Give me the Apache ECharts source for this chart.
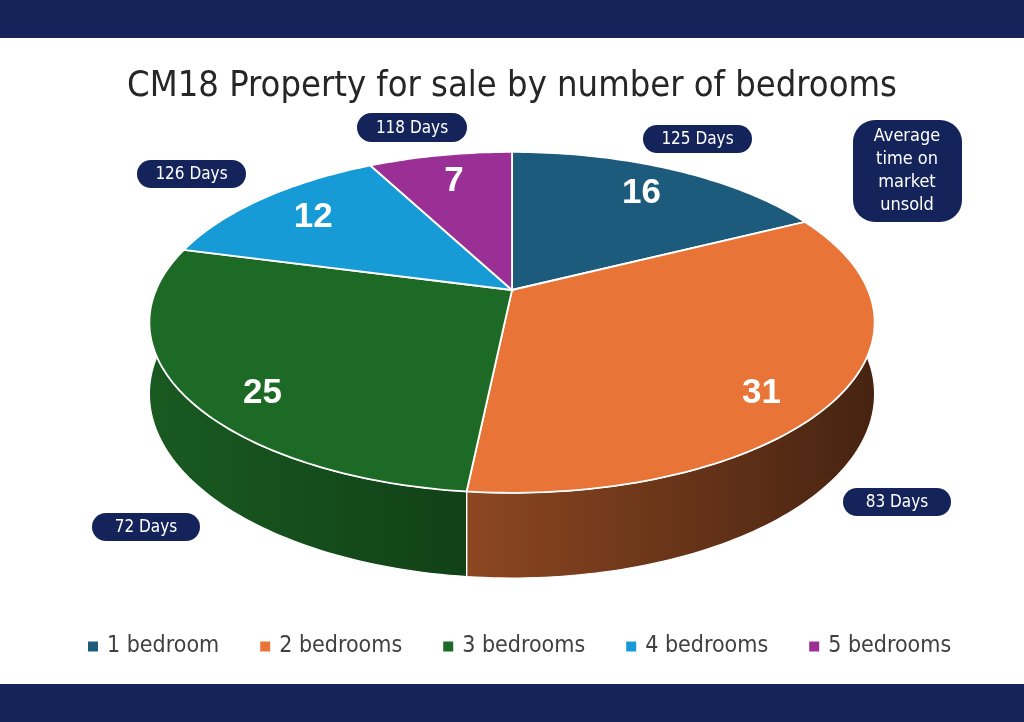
<!DOCTYPE html>
<html>
<head>
<meta charset="utf-8">
<script src="https://cdn.jsdelivr.net/npm/echarts@6/dist/echarts.min.js"></script>
<style>
  html, body { margin: 0; padding: 0; background: #fff; }
  #container { width: 1024px; height: 722px; }
</style>
</head>
<body>
<div id="container"></div>
<script>
var categories = ['1 bedroom', '2 bedrooms', '3 bedrooms', '4 bedrooms', '5 bedrooms']
var counts = [16, 31, 25, 12, 7]
var daysOnMarket = [125, 83, 72, 126, 118]
var colors = ['#1d5b7d', '#e87437', '#1d6a27', '#169bd6', '#9a2f96']

// where each "NN Days" pill sits: [x, y, w, h]
var calloutBoxes = [[643, 125, 109, 28], [843, 488, 108, 28], [92, 513, 108, 28], [137, 160, 109, 28], [357, 113, 110, 29]]

;(function () {
  var narrow = '"Liberation Sans Narrow", "DejaVu Sans Condensed", sans-serif'
  var navy = '#14245a'

  // tilted disc seen in perspective
  var CX = 512, CY = 290, RX = 356, RY = 164.3, PERSP = 0.19, DEPTH = 69
  function project(x, z, drop) {
    var w = 1 + PERSP * z
    return [CX + RX * x / w, CY - RY * z / w + (drop || 0) / w]
  }

  var total = 0
  for (var i = 0; i < counts.length; i++) total += counts[i]
  var startAngles = []
  var acc = 0
  for (var i = 0; i < counts.length; i++) {
    startAngles.push(2 * Math.PI * acc / total)
    acc += counts[i]
  }

  function shade(hex, f) {
    var n = parseInt(hex.slice(1), 16)
    var r = Math.round(((n >> 16) & 255) * f)
    var g = Math.round(((n >> 8) & 255) * f)
    var b = Math.round((n & 255) * f)
    return 'rgb(' + r + ',' + g + ',' + b + ')'
  }

  function renderSlice(idx) {
    return function (params, api) {
      var a0 = startAngles[idx]
      var a1 = a0 + 2 * Math.PI * api.value(0) / total
      var n = Math.max(8, Math.ceil((a1 - a0) / 0.02))
      var rimTop = [], rimBot = []
      for (var k = 0; k <= n; k++) {
        var a = a0 + (a1 - a0) * k / n
        rimTop.push(project(Math.sin(a), Math.cos(a)))
        rimBot.push(project(Math.sin(a), Math.cos(a), DEPTH))
      }
      var side = rimTop.concat(rimBot.slice().reverse())
      var top = [project(0, 0)].concat(rimTop)

      // label sits a bit lower on the front slices, like the original
      var am = (a0 + a1) / 2
      var lr = 0.78
      var lx = Math.sin(am) * lr, lz = Math.cos(am) * lr
      var lp = project(lx, lz, Math.max(0, -Math.cos(am)) * DEPTH * 0.55)

      var base = colors[idx]
      return {
        type: 'group',
        children: [
          {
            type: 'polygon',
            z2: 0,
            shape: { points: side },
            style: {
              fill: {
                type: 'linear', x: 149, y: 0, x2: 876, y2: 0, global: true,
                colorStops: [
                  { offset: 0, color: shade(base, 0.85) },
                  { offset: 0.45, color: shade(base, 0.6) },
                  { offset: 1, color: shade(base, 0.3) }
                ]
              },
              stroke: '#ffffff',
              lineWidth: 1.2
            }
          },
          {
            type: 'polygon',
            z2: 10,
            shape: { points: top },
            style: { fill: base, stroke: '#ffffff', lineWidth: 1.8 }
          },
          {
            type: 'text',
            z2: 20,
            x: lp[0],
            y: lp[1],
            style: {
              text: String(api.value(0)),
              fill: '#ffffff',
              font: 'bold 35px "Liberation Sans", Arial, sans-serif',
              align: 'center',
              verticalAlign: 'middle'
            }
          }
        ]
      }
    }
  }

  var series = []
  for (var i = 0; i < categories.length; i++) {
    series.push({
      name: categories[i],
      type: 'custom',
      coordinateSystem: 'none',
      renderItem: renderSlice(i),
      itemStyle: { color: colors[i] },
      silent: true,
      data: [[counts[i]]]
    })
  }

  var graphics = [
    { type: 'rect', left: 0, top: 0, shape: { width: 1024, height: 38 }, style: { fill: navy } },
    { type: 'rect', left: 0, top: 684, shape: { width: 1024, height: 38 }, style: { fill: navy } }
  ]
  for (var i = 0; i < daysOnMarket.length; i++) {
    var b = calloutBoxes[i]
    graphics.push({
      type: 'rect', z: 50,
      shape: { x: b[0], y: b[1], width: b[2], height: b[3], r: b[3] / 2 },
      style: { fill: navy }
    })
    graphics.push({
      type: 'text', z: 51,
      x: b[0] + b[2] / 2, y: b[1] + b[3] / 2 + 1,
      style: {
        text: daysOnMarket[i] + ' Days',
        fill: '#ffffff',
        font: '17px ' + narrow,
        align: 'center',
        verticalAlign: 'middle'
      }
    })
  }
  graphics.push({
    type: 'rect', z: 50,
    shape: { x: 853, y: 120, width: 109, height: 102, r: 22 },
    style: { fill: navy }
  })
  graphics.push({
    type: 'text', z: 51,
    x: 907, y: 171,
    style: {
      text: 'Average\ntime on\nmarket\nunsold',
      fill: '#ffffff',
      font: '18px ' + narrow,
      lineHeight: 23,
      align: 'center',
      verticalAlign: 'middle'
    }
  })

  var myChart = echarts.init(document.getElementById('container'))
  myChart.setOption({
    backgroundColor: '#ffffff',
    animation: false,
    title: {
      text: 'CM18 Property for sale by number of bedrooms',
      left: 'center',
      top: 64,
      textStyle: { fontSize: 36, fontWeight: 'normal', color: '#262626', fontFamily: narrow }
    },
    legend: {
      data: categories,
      top: 630,
      left: 83,
      icon: 'rect',
      itemWidth: 10,
      itemHeight: 10,
      itemGap: 41,
      textStyle: { fontSize: 23, color: '#404040', fontFamily: narrow, padding: [0, 0, 0, 4] },
      selectedMode: false
    },
    graphic: graphics,
    series: series
  })
})()
</script>
</body>
</html>
